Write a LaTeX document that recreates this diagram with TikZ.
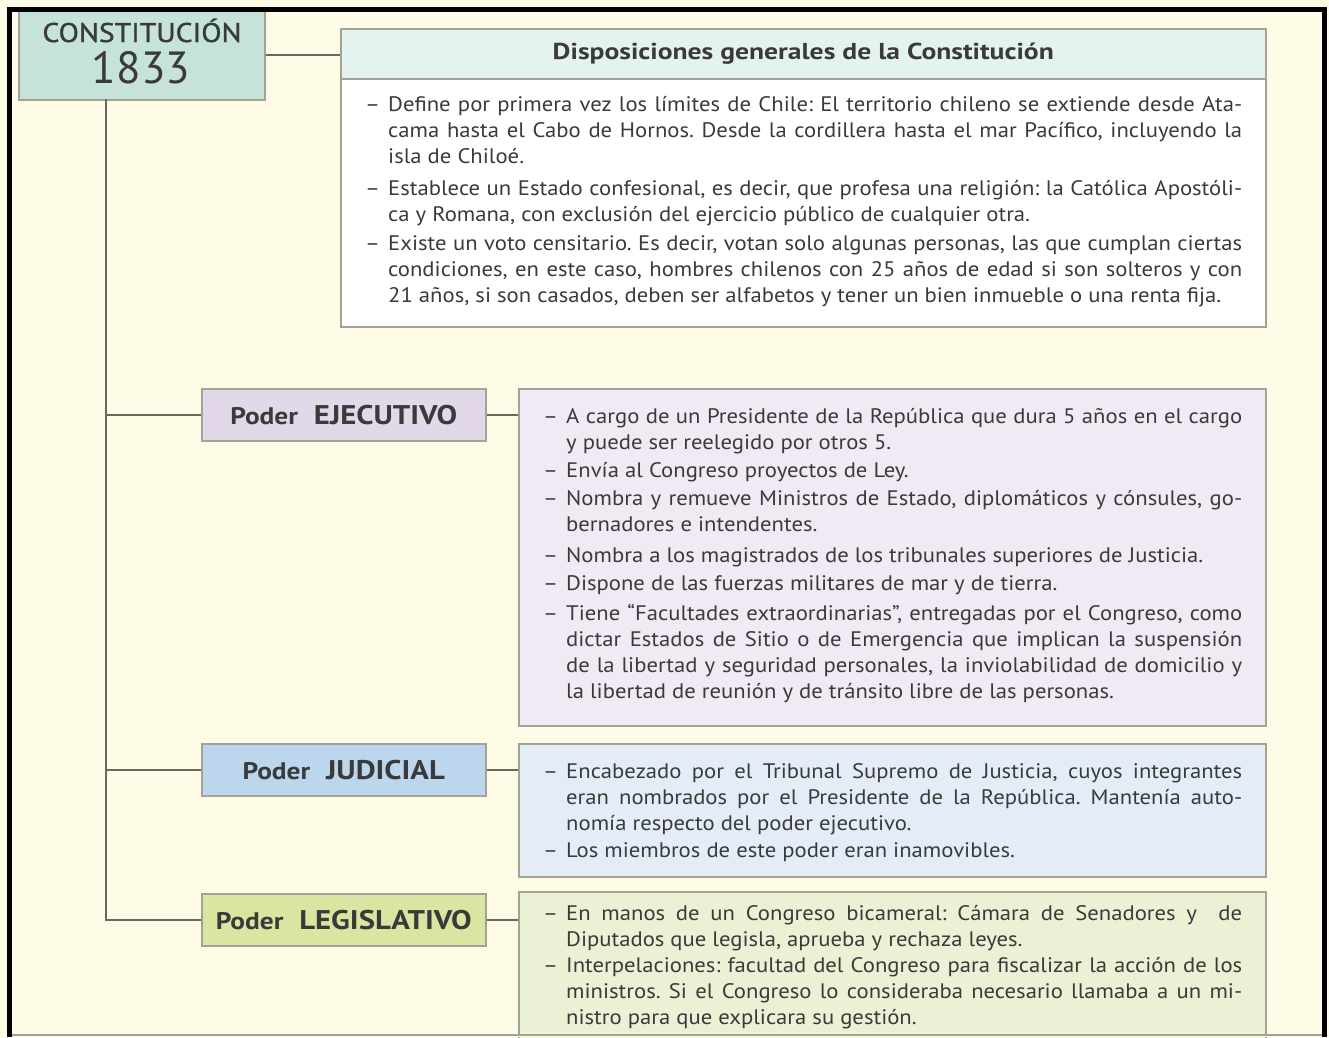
\documentclass[tikz,border=0pt]{standalone}
\usepackage{fontspec}
\setmainfont{PT Sans}
\newfontfamily\bodyf[FakeStretch=1.08]{PT Sans}
\newfontfamily\headf[FakeStretch=1.14]{PT Sans}
\newfontfamily\disptitlef[FakeStretch=1.2]{PT Sans}
\newfontfamily\constf[FakeStretch=1.1,FakeBold=1.2]{PT Sans}
\definecolor{cream}{HTML}{FEFBE6}
\definecolor{constfill}{HTML}{C5E3D8}
\definecolor{headfill}{HTML}{E5F3EE}
\definecolor{ejfill}{HTML}{E2D8EA}
\definecolor{ejbody}{HTML}{EFEAF4}
\definecolor{jufill}{HTML}{BCD6EE}
\definecolor{jubody}{HTML}{E4EDF7}
\definecolor{lefill}{HTML}{D8E6A2}
\definecolor{lebody}{HTML}{EAF1D4}
\definecolor{boxline}{HTML}{A3A395}
\definecolor{linkc}{HTML}{6A6A5C}
\definecolor{txt}{HTML}{3A3A3A}
\newdimen\mylinew
\newcommand\setlines[1]{\mylinew=#1\relax\frenchspacing
  \spaceskip=\fontdimen2\font plus 3em minus .45\fontdimen2\font\relax\xspaceskip=\spaceskip}
\newcommand\myitemdash{\makebox[23pt][l]{–}}
\newcommand\fj[1]{\hbox to\mylinew{\myitemdash#1}}
\newcommand\fl[1]{\hbox to\mylinew{\myitemdash#1\hfil}}
\newcommand\cj[1]{\hbox to\mylinew{\hskip23pt #1}}
\newcommand\cl[1]{\hbox to\mylinew{\hskip23pt #1\hfil}}
\newcommand\pd[1]{{\fontsize{24}{28}\selectfont Poder}\hspace{16pt}{\fontsize{27}{28}\selectfont #1}}
\begin{document}
\begin{tikzpicture}[x=1pt,y=-1pt,
  box/.style={draw=boxline, line width=1.5pt, inner sep=0pt, anchor=north west},
  lnk/.style={draw=linkc, line width=1.8pt},
  body/.style={inner sep=0pt, anchor=base west, text=txt,
    font=\bodyf\fontsize{21}{26}\selectfont},
  poder/.style={box, text=txt, minimum width=284pt, minimum height=52pt,
    font=\headf\bfseries}]
\fill[cream] (0,0) rectangle (1329,1037);
\useasboundingbox (0,0) rectangle (1329,1037);

% title box
\node[box, fill=constfill, minimum width=246pt, minimum height=90pt] (const) at (18,9) {};
\node[anchor=base, inner sep=0pt, text=txt, font=\constf\fontsize{27}{28}\selectfont] (consttitle) at (142,42) {CONSTITUCIÓN};
\node[anchor=base, inner sep=0pt, text=txt, font=\fontsize{45}{46}\selectfont] (constyear) at (141,83) {1833};

% general dispositions
\node[box, fill=headfill, minimum width=925pt, minimum height=50pt, text=txt,
  font=\disptitlef\bfseries\fontsize{23}{26}\selectfont] (disphead) at (340,28) {Disposiciones generales de la Constitución};
\node[box, fill=white, minimum width=925pt, minimum height=248pt] (dispbody) at (340,78) {};
\node[body, text width=877pt] (disptext) at (365,111) {\setlines{877pt}%
\fj{Define por primera vez los límites de Chile: El territorio chileno se extiende desde Ata-}
\cj{cama hasta el Cabo de Hornos. Desde la cordillera hasta el mar Pacífico, incluyendo la}
\cl{isla de Chiloé.}
\vskip6pt
\fj{Establece un Estado confesional, es decir, que profesa una religión: la Católica Apostóli-}
\cl{ca y Romana, con exclusión del ejercicio público de cualquier otra.}
\vskip3pt
\fj{Existe un voto censitario. Es decir, votan solo algunas personas, las que cumplan ciertas}
\cj{condiciones, en este caso, hombres chilenos con 25 años de edad si son solteros y con}
\cl{21 años, si son casados, deben ser alfabetos y tener un bien inmueble o una renta fija.}};

% executive
\node[poder, fill=ejfill] (ejec) at (201,388) {\pd{EJECUTIVO}};
\node[box, fill=ejbody, minimum width=747pt, minimum height=337pt] (ejecbody) at (518,388) {};
\node[body, text width=699pt] (ejectext) at (543,423) {\setlines{699pt}%
\fj{A cargo de un Presidente de la República que dura 5 años en el cargo}
\cl{y puede ser reelegido por otros 5.}
\vskip2pt
\fl{Envía al Congreso proyectos de Ley.}
\vskip2pt
\fj{Nombra y remueve Ministros de Estado, diplomáticos y cónsules, go-}
\cl{bernadores e intendentes.}
\vskip5pt
\fl{Nombra a los magistrados de los tribunales superiores de Justicia.}
\vskip2pt
\fl{Dispone de las fuerzas militares de mar y de tierra.}
\vskip4pt
\fj{Tiene “Facultades extraordinarias”, entregadas por el Congreso, como}
\cj{dictar Estados de Sitio o de Emergencia que implican la suspensión}
\cj{de la libertad y seguridad personales, la inviolabilidad de domicilio y}
\cl{la libertad de reunión y de tránsito libre de las personas.}};

% judicial
\node[poder, fill=jufill] (jud) at (201,743) {\pd{JUDICIAL}};
\node[box, fill=jubody, minimum width=747pt, minimum height=133pt] (judbody) at (518,743) {};
\node[body, text width=699pt] (judtext) at (543,778) {\setlines{699pt}%
\fj{Encabezado por el Tribunal Supremo de Justicia, cuyos integrantes}
\cj{eran nombrados por el Presidente de la República. Mantenía auto-}
\cl{nomía respecto del poder ejecutivo.}
\vskip1pt
\fl{Los miembros de este poder eran inamovibles.}};

% legislative
\node[poder, fill=lefill] (leg) at (201,893) {\pd{LEGISLATIVO}};
\node[box, fill=lebody, minimum width=747pt, minimum height=150pt] (legbody) at (518,891) {};
\node[body, text width=699pt] (legtext) at (543,920) {\setlines{699pt}%
\fj{En manos de un Congreso bicameral: Cámara de Senadores y \ de}
\cl{Diputados que legisla, aprueba y rechaza leyes.}
\fj{Interpelaciones: facultad del Congreso para fiscalizar la acción de los}
\cj{ministros. Si el Congreso lo consideraba necesario llamaba a un mi-}
\cl{nistro para que explicara su gestión.}};

% connectors
\coordinate (trunk) at (106,99);
\draw[lnk] (const.east) -- (const.east -| disphead.west);
\draw[lnk] (trunk) |- (leg.west);
\draw[lnk] (trunk |- ejec.west) -- (ejec.west);
\draw[lnk] (trunk |- jud.west) -- (jud.west);
\draw[lnk] (ejec.east) -- (ejec.east -| ejecbody.west);
\draw[lnk] (jud.east) -- (jud.east -| judbody.west);
\draw[lnk] (leg.east) -- (leg.east -| legbody.west);

% frame
\fill[cream] (0,1036) rectangle (1329,1037);
\draw[boxline, line width=1.5pt] (9,1035) -- (1324,1035);
\draw[black, line width=5pt] (9,1037) -- (9,9) -- (1324,9) -- (1324,1037);
\end{tikzpicture}
\end{document}
